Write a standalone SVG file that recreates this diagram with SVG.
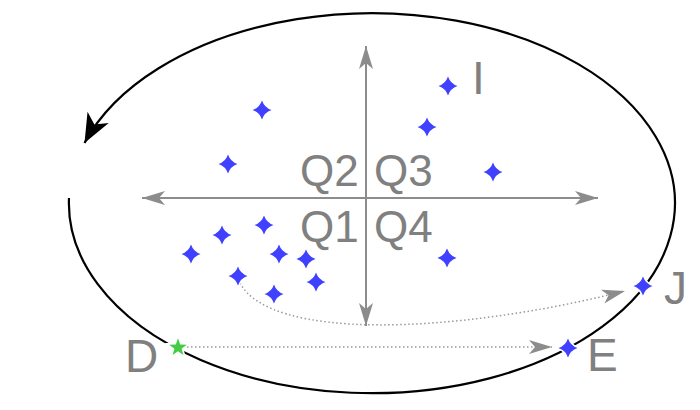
<svg xmlns="http://www.w3.org/2000/svg" width="700" height="410" viewBox="0 0 700 410">
<style>
.lbl{font-family:"Liberation Sans",Arial,sans-serif;fill:#808080;}
.q{font-size:44px;}
.big{font-size:46px;}
.axis{stroke:#8c8c8c;stroke-width:2;fill:none;}
.orbit{stroke:#000;stroke-width:2.2;fill:none;}
.dot{stroke:#999;stroke-width:1.5;stroke-dasharray:1.5 2.5;fill:none;}
.spark{fill:#4040ff;stroke:#fff;stroke-width:3;paint-order:stroke;}
.green{fill:#44cc44;stroke:#fff;stroke-width:3;paint-order:stroke;}
</style>
<defs>
<path id="sp" d="M0,-9.5 Q2.4,-2.4 9.5,0 Q2.4,2.4 0,9.5 Q-2.4,2.4 -9.5,0 Q-2.4,-2.4 0,-9.5Z"/>
<marker id="ga" markerUnits="userSpaceOnUse" viewBox="-24 -8 25 16" refX="0" refY="0" markerWidth="25" markerHeight="16" orient="auto-start-reverse" overflow="visible">
<path d="M0,0 L-23,-7 L-17,0 L-23,7 Z" fill="#8c8c8c"/>
</marker>
<marker id="da" markerUnits="userSpaceOnUse" viewBox="-24 -8 25 16" refX="0" refY="0" markerWidth="25" markerHeight="16" orient="auto" overflow="visible">
<path d="M0,0 L-23,-7 L-17,0 L-23,7 Z" fill="#8c8c8c"/>
</marker>
<marker id="ba" markerUnits="userSpaceOnUse" viewBox="-30 -13 31 26" refX="0" refY="0" markerWidth="31" markerHeight="26" orient="auto" overflow="visible">
<path d="M0,0 L-29,-12 L-21,0 L-29,12 Z" fill="#000"/>
</marker>
</defs>
<g id="connectors">
<path id="orbit" class="orbit" d="M69,198 A303 190 0 1 0 84.5,143" marker-end="url(#ba)"/>
<path id="x-axis" class="axis" d="M142,198 L598,198" marker-start="url(#ga)" marker-end="url(#ga)"/>
<path id="y-axis" class="axis" d="M366,46 L366,326" marker-start="url(#ga)" marker-end="url(#ga)"/>
<path id="d-to-e" class="dot" d="M187,347 L552,347" marker-end="url(#da)"/>
<path id="p-to-j" class="dot" d="M240,283 C270,340 450,335 625,291" marker-end="url(#da)"/>
</g>
<g id="quadrant-labels">
<text class="lbl q" x="300" y="186">Q2</text>
<text class="lbl q" x="374" y="186">Q3</text>
<text class="lbl q" x="300" y="242">Q1</text>
<text class="lbl q" x="374" y="242">Q4</text>
</g>
<g id="points">
<use href="#sp" class="spark" x="448" y="86"/>
<use href="#sp" class="spark" x="262" y="110"/>
<use href="#sp" class="spark" x="427" y="127"/>
<use href="#sp" class="spark" x="228" y="164"/>
<use href="#sp" class="spark" x="493" y="172"/>
<use href="#sp" class="spark" x="264" y="225"/>
<use href="#sp" class="spark" x="222" y="235"/>
<use href="#sp" class="spark" x="191" y="254"/>
<use href="#sp" class="spark" x="279" y="254"/>
<use href="#sp" class="spark" x="306" y="259"/>
<use href="#sp" class="spark" x="447" y="258"/>
<use href="#sp" class="spark" x="238" y="276"/>
<use href="#sp" class="spark" x="316" y="282"/>
<use href="#sp" class="spark" x="274" y="294"/>
</g>
<g id="node-I">
<text class="lbl big" x="472" y="94">I</text>
</g>
<g id="node-J">
<use href="#sp" class="spark" x="643" y="286"/>
<text class="lbl big" x="664" y="304">J</text>
</g>
<g id="node-E">
<use href="#sp" class="spark" x="568" y="348"/>
<text class="lbl big" x="587" y="371">E</text>
</g>
<g id="node-D">
<path class="green" transform="translate(178,347.5) scale(1.15)" d="M0,-8 L1.9,-2.6 L7.6,-2.5 L3.1,1 L4.7,6.5 L0,3.3 L-4.7,6.5 L-3.1,1 L-7.6,-2.5 L-1.9,-2.6 Z"/>
<text class="lbl big" x="125" y="372">D</text>
</g>
</svg>
